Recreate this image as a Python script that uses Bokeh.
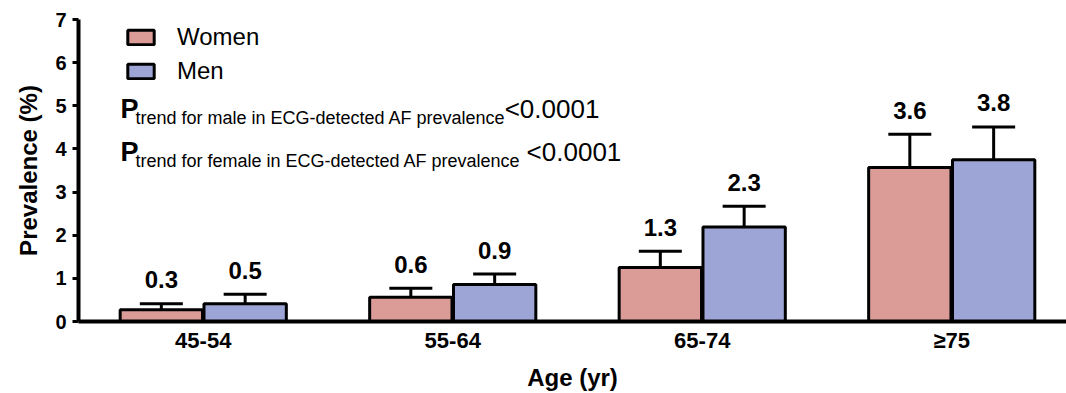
from bokeh.plotting import figure
from bokeh.models import ColumnDataSource, FixedTicker, Whisker, TeeHead, Legend, LegendItem, Range1d
from bokeh.core.properties import value
from bokeh.embed import file_html
from bokeh.resources import INLINE

# ---- data ----
age_groups = ["45-54", "55-64", "65-74", "\u226575"]
women = [0.27, 0.56, 1.25, 3.57]
men = [0.41, 0.86, 2.19, 3.75]
women_lower = [0.21, 0.46, 0.97, 2.95]
women_upper = [0.41, 0.77, 1.63, 4.34]
men_lower = [0.28, 0.70, 1.82, 3.13]
men_upper = [0.63, 1.10, 2.67, 4.51]
women_labels = ["0.3", "0.6", "1.3", "3.6"]
men_labels = ["0.5", "0.9", "2.3", "3.8"]
y_ticks = [0, 1, 2, 3, 4, 5, 6, 7]

FONT = "Liberation Sans"
W_COLOR = "#DB9C98"
M_COLOR = "#9CA5D5"

centers = [i + 0.5 for i in range(len(age_groups))]
off = 0.168
bw = 0.33

src_w = ColumnDataSource(dict(x=[c - off for c in centers], top=women, lo=women_lower,
                              up=women_upper, lab=women_labels))
src_m = ColumnDataSource(dict(x=[c + off for c in centers], top=men, lo=men_lower,
                              up=men_upper, lab=men_labels))

p = figure(width=1066, height=393, output_backend="svg", toolbar_location=None,
           x_range=Range1d(0, 3.96), y_range=Range1d(0, 7),
           min_border_left=78, min_border_right=0, min_border_top=19, min_border_bottom=72)
p.outline_line_color = None
p.grid.visible = False
p.background_fill_color = "white"

rw = p.vbar(x="x", top="top", width=bw, source=src_w, fill_color=W_COLOR,
            line_color="black", line_width=3)
rm = p.vbar(x="x", top="top", width=bw, source=src_m, fill_color=M_COLOR,
            line_color="black", line_width=3)

for src in (src_w, src_m):
    wk = Whisker(base="x", lower="lo", upper="up", source=src, line_width=3, line_color="black",
                 upper_head=TeeHead(size=43, line_width=3, line_color="black"),
                 lower_head=TeeHead(size=43, line_width=3, line_color="black"))
    p.add_layout(wk)
    p.text(x="x", y="up", text="lab", source=src, text_align="center", text_baseline="middle",
           y_offset=-24, text_font=value(FONT), text_font_style="bold", text_font_size="24px",
           text_color="black")

# axes
p.xaxis.ticker = FixedTicker(ticks=centers)
p.xaxis.major_label_overrides = {c: g for c, g in zip(centers, age_groups)}
p.xaxis.major_tick_line_color = None
p.xaxis.minor_tick_line_color = None
p.xaxis.axis_line_width = 4
p.xaxis.axis_label = "Age (yr)"
p.xaxis.major_label_standoff = 0

p.yaxis.ticker = FixedTicker(ticks=y_ticks)
p.yaxis.axis_line_width = 4
p.yaxis.major_tick_line_width = 3
p.yaxis.major_tick_out = 6
p.yaxis.major_tick_in = 0
p.yaxis.minor_tick_line_color = None
p.yaxis.axis_label = "Prevalence (%)"
p.yaxis.major_label_standoff = 6

for ax in (p.xaxis, p.yaxis):
    ax.axis_line_color = "black"
    ax.major_label_text_font = FONT
    ax.major_label_text_font_style = "bold"
    ax.major_label_text_color = "black"
    ax.axis_label_text_font = FONT
    ax.axis_label_text_font_style = "bold"
    ax.axis_label_text_color = "black"
    ax.axis_label_text_font_size = "24px"
p.yaxis.major_label_text_font_size = "20px"
p.xaxis.major_label_text_font_size = "22px"
p.xaxis.axis_label_standoff = 8
p.yaxis.axis_label_standoff = 10

# legend
legend = Legend(items=[LegendItem(label="Women", renderers=[rw]),
                       LegendItem(label="Men", renderers=[rm])],
                location=(46, 236), orientation="vertical",
                glyph_width=33, glyph_height=18, label_standoff=20, spacing=6,
                padding=0, margin=0, border_line_color=None, background_fill_alpha=0,
                label_text_font=FONT, label_text_font_size="24px", label_text_color="black")
p.add_layout(legend)

# P-trend annotations
rows = [("trend for male in ECG-detected AF prevalence", 4.92, 4.71, 1.708),
        ("trend for female in ECG-detected AF prevalence", 3.94, 3.73, 1.796)]
for sub, yb, ys, xv in rows:
    p.text(x=[0.168], y=[yb], text=["P"], text_font=value(FONT), text_font_style="bold",
           text_font_size="27px", text_baseline="alphabetic", text_color="black")
    p.text(x=[0.228], y=[ys], text=[sub], text_font=value(FONT), text_font_size="18px",
           text_baseline="alphabetic", text_color="black")
    p.text(x=[xv], y=[yb], text=["<0.0001"], text_font=value(FONT), text_font_size="26px",
           text_baseline="alphabetic", text_color="black")

open("out.html", "w").write(file_html(p, INLINE))
